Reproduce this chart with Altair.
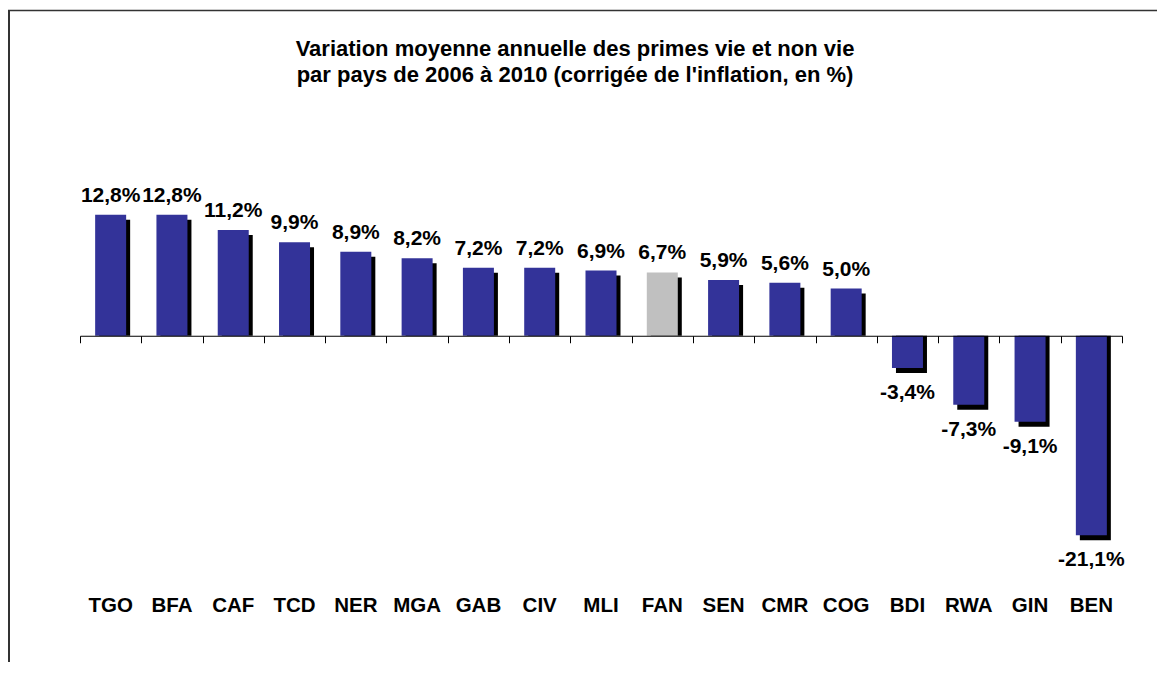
import altair as alt
import pandas as pd

pays = ["TGO", "BFA", "CAF", "TCD", "NER", "MGA", "GAB", "CIV", "MLI",
        "FAN", "SEN", "CMR", "COG", "BDI", "RWA", "GIN", "BEN"]
valeurs = [12.8, 12.8, 11.2, 9.9, 8.9, 8.2, 7.2, 7.2, 6.9,
           6.7, 5.9, 5.6, 5.0, -3.4, -7.3, -9.1, -21.1]
titre = ["Variation moyenne annuelle des primes vie et non vie",
         "par pays de 2006 à 2010 (corrigée de l'inflation, en %)"]

df = pd.DataFrame({"pays": pays, "v": valeurs})
df["label"] = [f"{v:.1f}".replace(".", ",") + "%" for v in valeurs]

W, H = 1042, 378
YMIN, YMAX = -25, 15
zero_px = H * YMAX / (YMAX - YMIN)
FONT = "Liberation Sans"

xaxis = alt.Axis(labels=False, title=None, grid=False, tickBand="extent",
                 tickSize=7, tickColor="black", domainColor="black",
                 domainWidth=1, tickWidth=1, offset=-(H - zero_px), zindex=1)
xs = alt.X("pays:N", sort=pays,
           scale=alt.Scale(paddingInner=0, paddingOuter=0), axis=xaxis)
ys = alt.Y("v:Q", scale=alt.Scale(domain=[YMIN, YMAX], nice=False, zero=True), axis=None)

base = alt.Chart(df)

shadow = base.mark_bar(size=31, color="black", xOffset=4, yOffset=5).encode(
    x=xs, y=ys, y2=alt.datum(0))

bars = base.mark_bar(size=31).encode(
    x=xs, y=ys, y2=alt.datum(0),
    color=alt.when(alt.datum.pays == "FAN").then(alt.value("#C0C0C0")).otherwise(alt.value("#333399")))

pos_lab = base.transform_filter(alt.datum.v >= 0).mark_text(
    font=FONT, fontSize=21, fontWeight="bold", dy=-13, baseline="alphabetic", align="center", color="black"
).encode(x=xs, y=ys, text="label:N")

neg_lab = base.transform_filter(alt.datum.v < 0).mark_text(
    font=FONT, fontSize=21, fontWeight="bold", dy=31, baseline="alphabetic", align="center", color="black"
).encode(x=xs, y=ys, text="label:N")

cat_lab = base.mark_text(
    font=FONT, fontSize=20.5, fontWeight="bold", baseline="alphabetic", align="center", color="black"
).encode(x=xs, y=alt.value(417.7), text="pays:N")

one = pd.DataFrame({"a": [0]})
title_mark = alt.Chart(one).mark_text(
    font=FONT, fontSize=22, fontWeight="bold", baseline="alphabetic", align="center",
    lineHeight=25.7, color="black"
).encode(x=alt.value(495), y=alt.value(-138), text=alt.value(titre))

border_left = alt.Chart(one).mark_rule(color="#333333", strokeWidth=2).encode(
    x=alt.value(-71), y=alt.value(-183.5), y2=alt.value(H + 100))
border_top = alt.Chart(one).mark_rule(color="#333333", strokeWidth=1.5).encode(
    x=alt.value(-72), x2=alt.value(W + 40), y=alt.value(-183.5))

chart = alt.layer(shadow, bars, pos_lab, neg_lab, cat_lab, title_mark, border_left, border_top).properties(
    width=W, height=H,
    autosize=alt.AutoSizeParams(type="none"),
    padding={"left": 72, "top": 186, "right": 35, "bottom": 90},
    background="white",
).configure_view(stroke=None)

chart.save("out.html", embed_options={"renderer": "svg", "actions": False})
